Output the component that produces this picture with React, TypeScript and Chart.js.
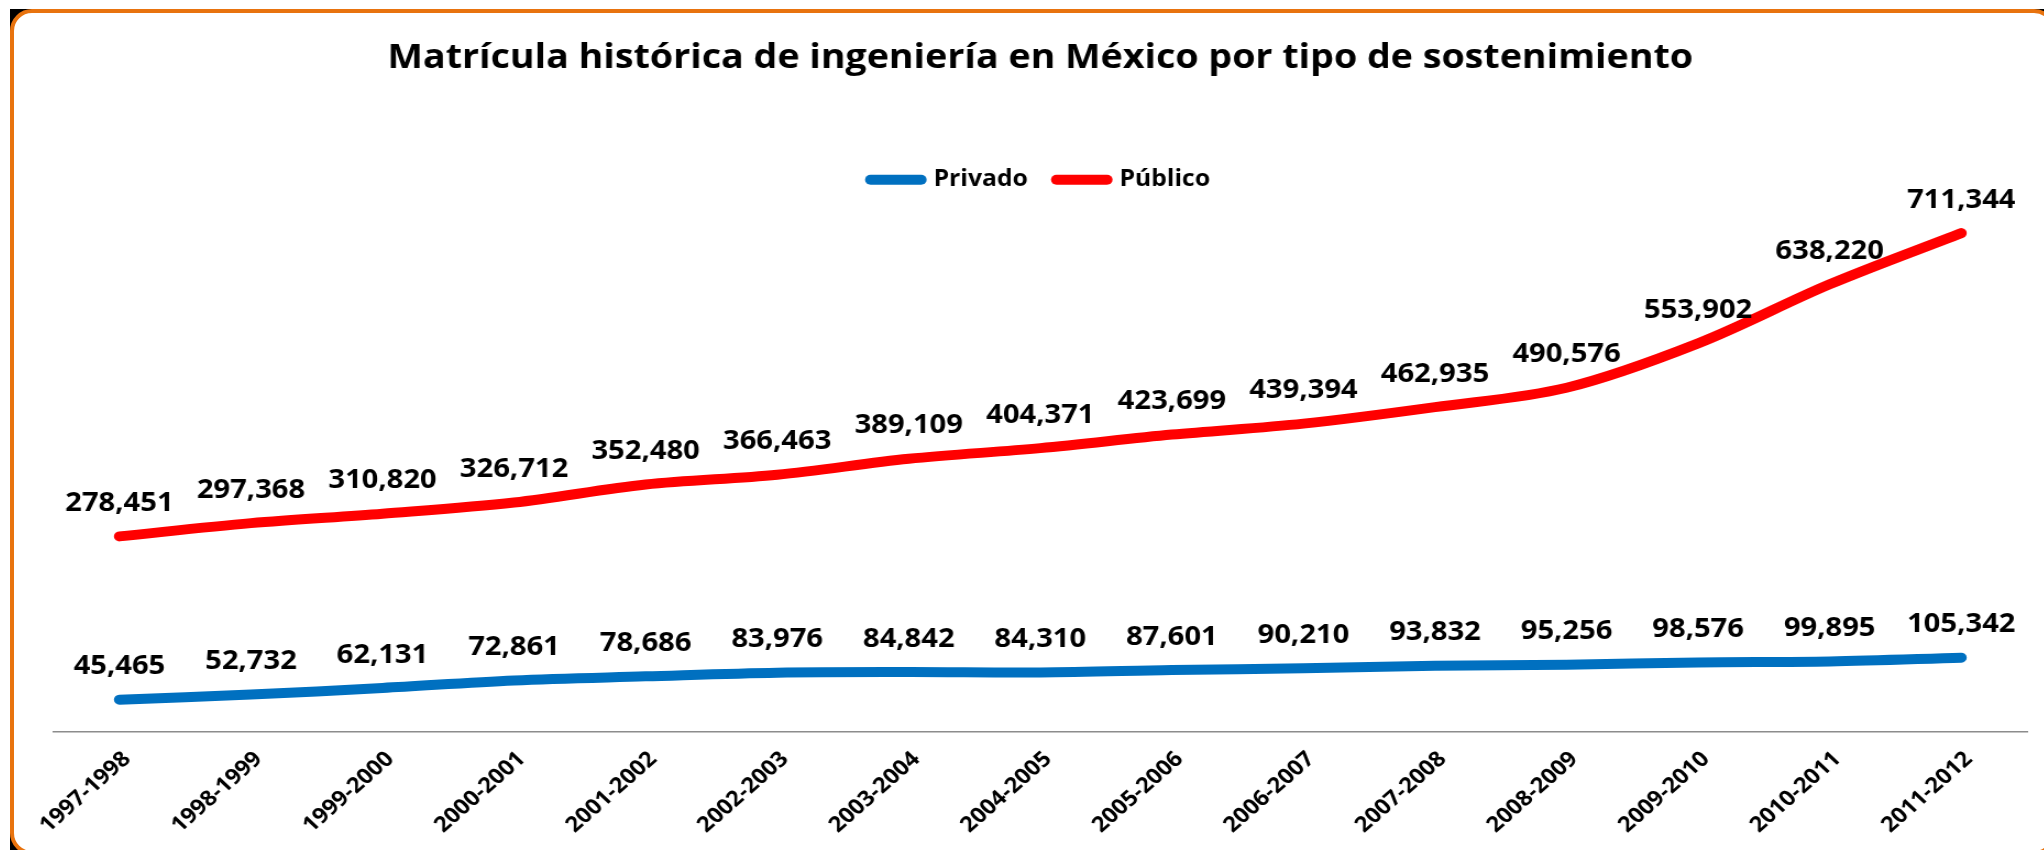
import React, { useEffect, useRef } from "react";
import { Chart, registerables } from "chart.js";

Chart.register(...registerables);

const titleText = "Matrícula histórica de ingeniería en México por tipo de sostenimiento";
const categories = [
  "1997-1998", "1998-1999", "1999-2000", "2000-2001", "2001-2002",
  "2002-2003", "2003-2004", "2004-2005", "2005-2006", "2006-2007",
  "2007-2008", "2008-2009", "2009-2010", "2010-2011", "2011-2012",
];
const seriesNames = ["Privado", "Público"];
const privado = [45465, 52732, 62131, 72861, 78686, 83976, 84842, 84310, 87601, 90210, 93832, 95256, 98576, 99895, 105342];
const publico = [278451, 297368, 310820, 326712, 352480, 366463, 389109, 404371, 423699, 439394, 462935, 490576, 553902, 638220, 711344];
const seriesColors = ["#0070C0", "#FF0000"];
const yMin = 0;
const yMax = 757000;

const STRETCH = 1.1;
const CANVAS_W = 1854;
const CANVAS_H = 838;
const FONT = "'Open Sans', 'Noto Sans', sans-serif";

const dataLabelPlugin = {
  id: "dataLabelPlugin",
  afterDatasetsDraw(chart: any) {
    const ctx = chart.ctx as CanvasRenderingContext2D;
    ctx.save();
    ctx.font = `bold 26.5px ${FONT}`;
    ctx.fillStyle = "#000000";
    ctx.textAlign = "center";
    ctx.textBaseline = "middle";
    chart.data.datasets.forEach((ds: any, i: number) => {
      const meta = chart.getDatasetMeta(i);
      meta.data.forEach((pt: any, j: number) => {
        const v = ds.data[j] as number;
        ctx.fillText(v.toLocaleString("en-US"), pt.x, pt.y - 33);
      });
    });
    ctx.restore();
  },
};

function LineChart() {
  const ref = useRef<HTMLCanvasElement | null>(null);
  useEffect(() => {
    if (!ref.current) return;
    const makeDs = (i: number, data: number[]) => ({
      label: seriesNames[i],
      data,
      borderColor: seriesColors[i],
      backgroundColor: seriesColors[i],
      borderWidth: 10,
      borderCapStyle: "round",
      borderJoinStyle: "round",
      pointRadius: 0,
      pointHoverRadius: 0,
      tension: 0.33,
      fill: false,
    });
    const chart = new Chart(ref.current, {
      type: "line",
      data: {
        labels: categories,
        datasets: [makeDs(0, privado), makeDs(1, publico)],
      },
      options: {
        responsive: false,
        animation: false,
        devicePixelRatio: 1,
        layout: { padding: { left: 36, right: 24, top: 0, bottom: 0 } },
        plugins: {
          tooltip: { enabled: false },
          title: {
            display: true,
            text: titleText,
            color: "#000000",
            font: { family: FONT, weight: "bold", size: 34.2 },
            padding: { top: 25.5, bottom: 64 },
          },
          legend: {
            display: true,
            position: "top",
            labels: {
              usePointStyle: true,
              pointStyleWidth: 46,
              boxHeight: 10,
              padding: 26,
              color: "#000000",
              font: { family: FONT, weight: "bold", size: 22.5 },
              generateLabels: (c: any) =>
                c.data.datasets.map((ds: any, i: number) => ({
                  text: ds.label,
                  fillStyle: ds.borderColor,
                  strokeStyle: ds.borderColor,
                  lineWidth: 10,
                  lineCap: "round",
                  pointStyle: "line",
                  hidden: false,
                  datasetIndex: i,
                  fontColor: "#000000",
                })),
            },
          },
        },
        scales: {
          x: {
            offset: true,
            grid: { display: false, drawTicks: false, offset: true },
            border: { display: true, color: "#8c8c8c", width: 1.5 },
            ticks: {
              autoSkip: false,
              minRotation: 44,
              maxRotation: 44,
              padding: 15,
              labelOffset: 7,
              color: "#000000",
              font: { family: FONT, weight: "bold", size: 21.5 },
            },
            afterFit: (s: any) => {
              s.paddingLeft = 0;
              s.paddingRight = 0;
              s.height = 118.5;
            },
          },
          y: {
            display: false,
            min: yMin,
            max: yMax,
          },
        },
      },
      plugins: [dataLabelPlugin],
    } as any);
    return () => chart.destroy();
  }, []);

  return (
    <div
      style={{
        position: "absolute",
        left: 14,
        top: 12,
        width: CANVAS_W,
        height: CANVAS_H,
        transform: `scaleX(${STRETCH})`,
        transformOrigin: "0 0",
      }}
    >
      <canvas ref={ref} width={CANVAS_W} height={CANVAS_H} style={{ display: "block", width: CANVAS_W, height: CANVAS_H }} />
    </div>
  );
}

export default function App() {
  return (
    <div style={{ position: "fixed", inset: 0, background: "#ffffff", overflow: "hidden" }}>
      <div
        style={{
          position: "absolute",
          left: 10,
          top: 9,
          width: 2046,
          height: 846,
          background: "#000000",
        }}
      >
        <div
          style={{
            position: "absolute",
            inset: 0,
            boxSizing: "border-box",
            border: "4px solid #E8730E",
            borderRadius: 22,
            background: "#ffffff",
          }}
        />
      </div>
      <LineChart />
    </div>
  );
}
